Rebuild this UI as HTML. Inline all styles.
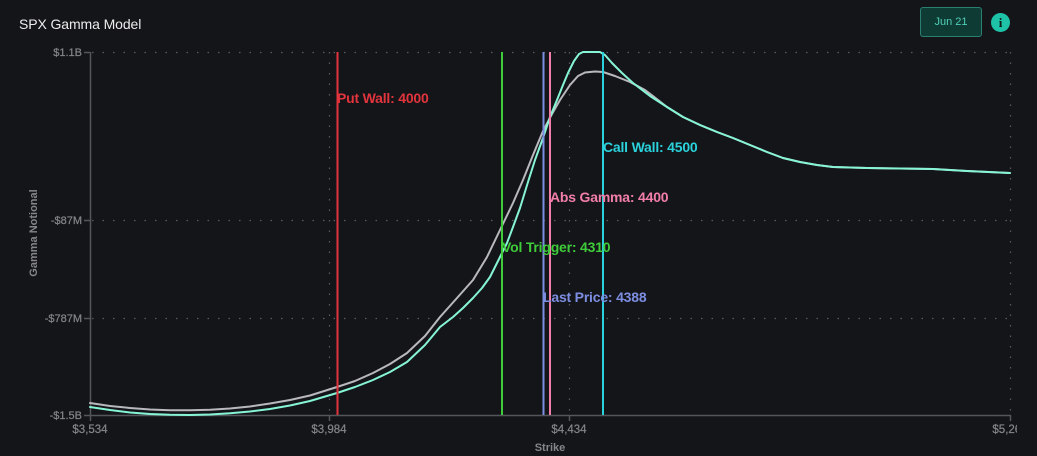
<!DOCTYPE html>
<html>
<head>
<meta charset="utf-8">
<style>
  html,body{margin:0;padding:0;background:#141519;}
  body{width:1037px;height:456px;overflow:hidden;position:relative;font-family:"Liberation Sans",sans-serif;}
  .title{position:absolute;left:19px;top:16px;color:#ececec;font-size:14px;letter-spacing:-0.1px;}
  .btn{position:absolute;left:920px;top:7px;width:62px;height:30px;box-sizing:border-box;background:#0f3b35;border:1px solid #2a7f70;border-radius:3px;color:#4fd0b6;font-size:11px;text-align:center;line-height:29px;}
  .info{position:absolute;left:991px;top:13px;width:19px;height:19px;border-radius:50%;background:#1ec2a6;color:#0e1a18;font-weight:bold;font-size:13px;text-align:center;line-height:19px;font-family:"Liberation Serif",serif;}
  svg{position:absolute;left:0;top:0;}
</style>
</head>
<body>
<div class="title">SPX Gamma Model</div>
<div class="btn">Jun 21</div>
<div class="info">i</div>
<svg width="1037" height="456" viewBox="0 0 1037 456" xmlns="http://www.w3.org/2000/svg">
  <defs>
    <clipPath id="pc"><rect x="88" y="51" width="924" height="366"/></clipPath>
    <clipPath id="tc"><rect x="0" y="0" width="1017" height="456"/></clipPath>
  </defs>
  <!-- grid -->
  <g stroke="#5a5b5f" stroke-width="1.2" stroke-dasharray="1.5,9" fill="none">
    <line x1="92" y1="52.5" x2="1010" y2="52.5"/>
    <line x1="92" y1="220.5" x2="1010" y2="220.5"/>
    <line x1="92" y1="318.5" x2="1010" y2="318.5"/>
    <line x1="329.5" y1="52" x2="329.5" y2="415"/>
    <line x1="569.5" y1="52" x2="569.5" y2="415"/>
    <line x1="1010.5" y1="52" x2="1010.5" y2="415"/>
  </g>
  <!-- axes -->
  <g stroke="#55565a" stroke-width="1.5" fill="none">
    <line x1="90.5" y1="52" x2="90.5" y2="416"/>
    <line x1="90" y1="415.5" x2="1011" y2="415.5"/>
    <line x1="84" y1="52.5" x2="90" y2="52.5"/>
    <line x1="84" y1="220.5" x2="90" y2="220.5"/>
    <line x1="84" y1="318.5" x2="90" y2="318.5"/>
    <line x1="84" y1="415.5" x2="90" y2="415.5"/>
    <line x1="90.5" y1="415" x2="90.5" y2="421"/>
    <line x1="329.5" y1="415" x2="329.5" y2="421"/>
    <line x1="569.5" y1="415" x2="569.5" y2="421"/>
    <line x1="1010.5" y1="415" x2="1010.5" y2="421"/>
  </g>
  <!-- y labels -->
  <g fill="#85868a" font-size="11" text-anchor="end" font-family="Liberation Sans, sans-serif" stroke="#85868a" stroke-width="0.2">
    <text x="82" y="56">$1.1B</text>
    <text x="82" y="224">-$87M</text>
    <text x="82" y="322">-$787M</text>
    <text x="82" y="419">-$1.5B</text>
  </g>
  <!-- x labels -->
  <g fill="#85868a" font-size="11.5" text-anchor="middle" font-family="Liberation Sans, sans-serif" clip-path="url(#tc)" stroke="#85868a" stroke-width="0.2">
    <text x="90" y="433">$3,534</text>
    <text x="329" y="433">$3,984</text>
    <text x="569" y="433">$4,434</text>
    <text x="1010" y="433">$5,266</text>
  </g>
  <text x="550" y="451" fill="#85868a" font-size="11" font-weight="bold" text-anchor="middle" font-family="Liberation Sans, sans-serif">Strike</text>
  <text transform="translate(37,233) rotate(-90)" fill="#85868a" font-size="11" font-weight="bold" text-anchor="middle" font-family="Liberation Sans, sans-serif">Gamma Notional</text>

  <g clip-path="url(#pc)" fill="none" stroke-linejoin="round" stroke-linecap="round">
    <!-- gray curve -->
    <polyline stroke="#b9b9bd" stroke-width="2" points="90,403 110,406 130,408 150,409.5 170,410.2 190,410.3 210,409.8 230,408.5 250,406.5 270,403.5 290,400 310,395.5 337,387 355,381 373,373 390,364 407,353 425,336 440,317 457,298 473,280 487,257 500,230 513,203 523,180 533,155 543,131 552,114 560,100 570,85 578,76 585,72.5 595,71.5 603,72 615,76 630,82 645,90 653,96 667,107 683,117 700,125 717,132 733,138 750,145 767,152 783,158 800,162 817,165 833,167 867,168 900,168.5 933,169 967,171 1010,173"/>
    <!-- cyan curve -->
    <polyline stroke="#86f5d6" stroke-width="2" points="90,407 110,410 130,412.5 150,414 170,414.8 190,415 210,414.5 230,413.3 250,411.5 270,409 290,405.5 310,401 337,393 355,387 373,380 390,372 407,362 425,345 440,327 453,317 463,308 473,298 482,288 490,277 500,257 507,243 513,227 520,208 528,182 535,160 543,138 550,117 557,100 563,85 568,73 574,61 579,54 583,52 600,52 605,55 612,63 622,73 633,83 650,96 667,107 683,117 700,125 717,132 733,138 750,145 767,152 783,158 800,162 817,165 833,167 867,168 900,168.5 933,169 967,171 1010,173"/>
  </g>

  <!-- vertical markers -->
  <g stroke-width="2">
    <line x1="337.5" y1="52" x2="337.5" y2="415" stroke="#e2343d"/>
    <line x1="502" y1="52" x2="502" y2="415" stroke="#3fcc3a"/>
    <line x1="543.5" y1="52" x2="543.5" y2="415" stroke="#7d8ee2"/>
    <line x1="550" y1="52" x2="550" y2="415" stroke="#f27eaa"/>
    <line x1="603" y1="52" x2="603" y2="415" stroke="#2ad2dc"/>
  </g>
  <g font-size="14" font-weight="bold" font-family="Liberation Sans, sans-serif" letter-spacing="-0.2">
    <text x="337" y="103" fill="#e2343d">Put Wall: 4000</text>
    <text x="603" y="152" fill="#2ad2dc">Call Wall: 4500</text>
    <text x="550" y="202" fill="#f27eaa">Abs Gamma: 4400</text>
    <text x="502" y="252" fill="#3fcc3a">Vol Trigger: 4310</text>
    <text x="543" y="302" fill="#7d8ee2">Last Price: 4388</text>
  </g>
</svg>
</body>
</html>
